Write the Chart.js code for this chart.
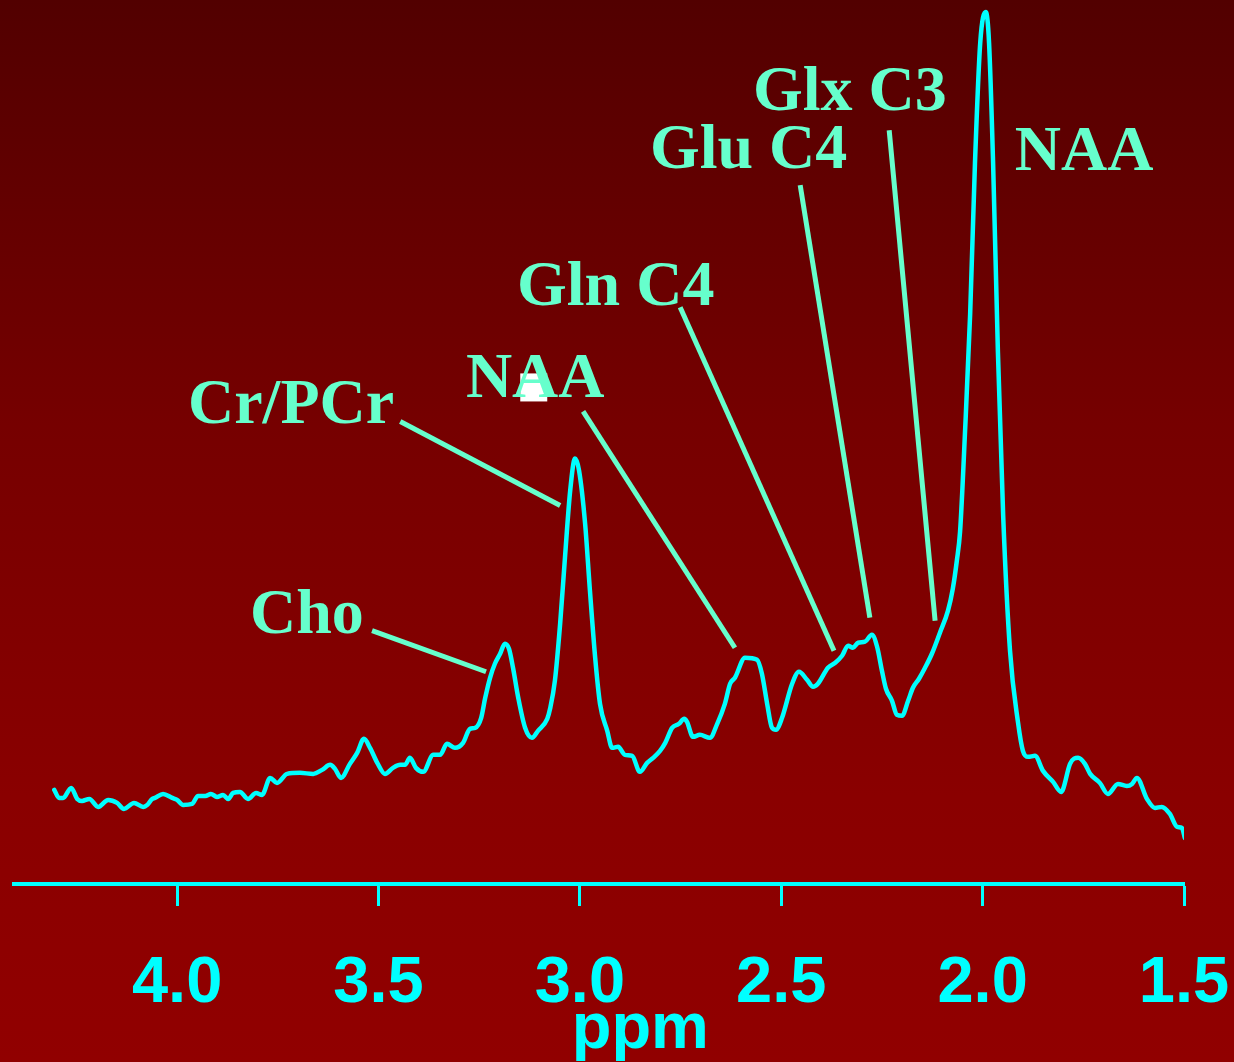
<!DOCTYPE html>
<html>
<head>
<meta charset="utf-8">
<title>1H MR spectrum</title>
<script src="https://cdn.jsdelivr.net/npm/chart.js@4.4.1/dist/chart.umd.min.js"></script>
<style>
  html, body { margin: 0; padding: 0; background: #8c0000; }
  .chart-container { width: 1234px; height: 1062px; position: relative; }
</style>
</head>
<body>
<div class="chart-container">
  <canvas id="spectrumChart"></canvas>
</div>
<script type="text/javascript">
// chemical shift (ppm), high to low
const PPM = [
  4.305, 4.293, 4.283, 4.263, 4.248, 4.236, 4.218, 4.196, 4.171, 4.149,
  4.132, 4.107, 4.084, 4.074, 4.062, 4.055, 4.035, 4.012, 4.000, 3.985,
  3.963, 3.948, 3.930, 3.916, 3.901, 3.886, 3.873, 3.861, 3.844, 3.824,
  3.804, 3.789, 3.769, 3.752, 3.727, 3.695, 3.662, 3.640, 3.620, 3.608,
  3.593, 3.571, 3.553, 3.536, 3.521, 3.503, 3.484, 3.464, 3.446, 3.434,
  3.422, 3.407, 3.389, 3.364, 3.347, 3.330, 3.310, 3.290, 3.273, 3.260,
  3.245, 3.235, 3.223, 3.211, 3.198, 3.186, 3.176, 3.166, 3.153, 3.136,
  3.119, 3.104, 3.081, 3.074, 3.062, 3.049, 3.037, 3.024, 3.012, 3.002,
  2.987, 2.975, 2.962, 2.950, 2.932, 2.920, 2.905, 2.888, 2.870, 2.851,
  2.833, 2.818, 2.801, 2.788, 2.771, 2.754, 2.741, 2.734, 2.719, 2.702,
  2.677, 2.659, 2.640, 2.627, 2.615, 2.590, 2.560, 2.548, 2.535, 2.523,
  2.513, 2.498, 2.473, 2.456, 2.436, 2.421, 2.409, 2.384, 2.366, 2.349,
  2.334, 2.322, 2.309, 2.292, 2.275, 2.262, 2.250, 2.240, 2.225, 2.213,
  2.200, 2.185, 2.173, 2.158, 2.143, 2.126, 2.106, 2.086, 2.074, 2.064,
  2.056, 2.044, 2.031, 2.019, 2.006, 1.992, 1.984, 1.974, 1.962, 1.949,
  1.932, 1.912, 1.900, 1.887, 1.870, 1.850, 1.825, 1.805, 1.800, 1.783,
  1.763, 1.746, 1.733, 1.709, 1.689, 1.664, 1.642, 1.629, 1.617, 1.592,
  1.572, 1.555, 1.535, 1.517, 1.505, 1.498
];

// signal amplitude (a.u.)
const SIGNAL = [
   94,  86,  86,  96,  85,  83,  85,  77,  84,  81,
   75,  81,  77,  79,  85,  86,  90,  86,  84,  79,
   80,  88,  88,  90,  87,  89,  85,  91,  92,  85,
   91,  89, 106, 101, 110, 111, 110, 114, 119, 115,
  106, 120, 131, 145, 136, 121, 110, 116, 119, 119,
  126, 116, 112, 129, 129, 140, 136, 141, 155, 156,
  166, 186, 206, 220, 230, 240, 235, 216, 186, 156,
  146, 153, 165, 175, 203, 260, 326, 393, 425, 413,
  360, 293, 226, 180, 153, 136, 137, 129, 128, 112,
  121, 126, 133, 141, 156, 160, 165, 162, 147, 149,
  146, 160, 180, 200, 206, 226, 224, 210, 180, 156,
  154, 166, 200, 212, 204, 197, 200, 216, 221, 228,
  238, 236, 241, 242, 249, 237, 213, 195, 183, 169,
  168, 183, 196, 205, 216, 230, 251, 273, 295, 323,
  352, 449, 569, 720, 840, 871, 840, 720, 531, 368,
  233, 161, 133, 127, 128, 113, 102,  92,  95, 120,
  126, 120, 110, 101,  90, 100,  98, 100, 106,  85,
   76,  77,  70,  57,  56,  46
];

const TICK_PPM = [4.0, 3.5, 3.0, 2.5, 2.0, 1.5];

// peak labels: text anchor (left, baseline) and optional leader line, in ppm / a.u.
const LABELS = [
  { text: 'Cho',    ppm: 3.819, amp: 251, from: [3.516, 253], to: [3.233, 212] },
  { text: 'Cr/PCr', ppm: 3.973, amp: 460, from: [3.446, 462], to: [3.049, 378] },
  { text: 'NAA',    ppm: 3.283, amp: 486, from: [2.992, 472], to: [2.615, 236] },
  { text: 'Gln C4', ppm: 3.156, amp: 578, from: [2.751, 576], to: [2.369, 233] },
  { text: 'Glu C4', ppm: 2.826, amp: 715, from: [2.453, 698], to: [2.280, 266] },
  { text: 'Glx C3', ppm: 2.570, amp: 773, from: [2.232, 753], to: [2.118, 263] },
  { text: 'NAA',    ppm: 1.920, amp: 713 }
];

const LABEL_COLOR = '#66ffcc';
const TRACE_COLOR = '#00ffff';

const backdrop = {
  id: 'backdrop',
  beforeDraw(chart) {
    const ctx = chart.ctx;
    const g = ctx.createLinearGradient(0, 0, 0, chart.height);
    g.addColorStop(0, 'rgb(82,0,0)');
    g.addColorStop(0.4, 'rgb(118,0,0)');
    g.addColorStop(0.75, 'rgb(138,0,0)');
    g.addColorStop(1, 'rgb(145,0,0)');
    ctx.save();
    ctx.fillStyle = g;
    ctx.fillRect(0, 0, chart.width, chart.height);
    ctx.restore();
  }
};

const peakLabels = {
  id: 'peakLabels',
  afterDatasetsDraw(chart) {
    const ctx = chart.ctx;
    const xs = chart.scales.x, ys = chart.scales.y;
    ctx.save();

    // small white patch behind the middle NAA label
    ctx.fillStyle = '#ffffff';
    const px1 = xs.getPixelForValue(3.148), px2 = xs.getPixelForValue(3.081);
    const py1 = ys.getPixelForValue(510), py2 = ys.getPixelForValue(482);
    ctx.fillRect(px1, py1, px2 - px1, py2 - py1);

    ctx.strokeStyle = LABEL_COLOR;
    ctx.lineWidth = 5;
    ctx.lineCap = 'butt';
    LABELS.forEach(l => {
      if (!l.from) return;
      ctx.beginPath();
      ctx.moveTo(xs.getPixelForValue(l.from[0]), ys.getPixelForValue(l.from[1]));
      ctx.lineTo(xs.getPixelForValue(l.to[0]), ys.getPixelForValue(l.to[1]));
      ctx.stroke();
    });

    ctx.fillStyle = LABEL_COLOR;
    ctx.font = 'bold 64px "Liberation Serif", "Times New Roman", serif';
    ctx.textAlign = 'left';
    ctx.textBaseline = 'alphabetic';
    LABELS.forEach(l => {
      ctx.fillText(l.text, xs.getPixelForValue(l.ppm), ys.getPixelForValue(l.amp));
    });

    // axis title
    ctx.fillStyle = TRACE_COLOR;
    ctx.font = 'bold 65px "Liberation Sans", Arial, sans-serif';
    ctx.textAlign = 'center';
    ctx.fillText('ppm', xs.getPixelForValue(2.85), 1048);
    ctx.restore();
  }
};

new Chart('spectrumChart', {
  type: 'line',
  data: {
    datasets: [{
      label: 'spectrum',
      data: PPM.map((p, i) => ({ x: p, y: SIGNAL[i] })),
      borderColor: TRACE_COLOR,
      borderWidth: 4.5,
      pointRadius: 0,
      fill: false,
      cubicInterpolationMode: 'monotone',
      borderJoinStyle: 'round',
      borderCapStyle: 'round'
    }]
  },
  options: {
    responsive: true,
    maintainAspectRatio: false,
    animation: false,
    layout: { padding: { left: 14, right: 50, top: 0, bottom: 0 } },
    plugins: {
      legend: { display: false },
      tooltip: { enabled: false }
    },
    scales: {
      x: {
        type: 'linear',
        reverse: true,
        min: 1.5,
        max: 4.405,
        afterBuildTicks: s => { s.ticks = TICK_PPM.map(v => ({ value: v })); },
        afterFit: s => { s.paddingLeft = 0; s.paddingRight = 0; },
        border: { display: true, color: TRACE_COLOR, width: 4 },
        grid: {
          drawOnChartArea: false,
          drawTicks: true,
          tickLength: 22,
          tickWidth: 3,
          tickColor: TRACE_COLOR
        },
        ticks: {
          color: TRACE_COLOR,
          padding: 39,
          maxRotation: 0,
          autoSkip: false,
          font: { family: '"Liberation Sans", Arial, sans-serif', size: 65, weight: 'bold' },
          callback: v => v.toFixed(1)
        }
      },
      y: {
        display: false,
        min: 0,
        max: 883
      }
    }
  },
  plugins: [backdrop, peakLabels]
});
</script>
</body>
</html>
